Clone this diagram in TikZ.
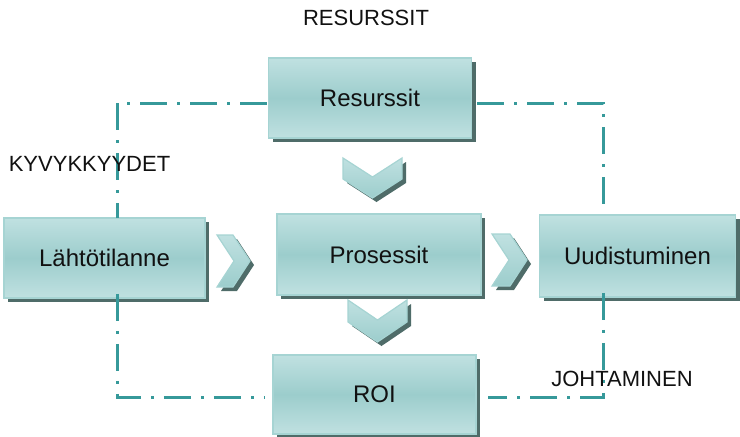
\documentclass[tikz,border=0pt]{standalone}
\usepackage{fontspec}
\setmainfont{Liberation Sans}
\usetikzlibrary{shadows}
\definecolor{boxlight}{HTML}{C0E1E1}
\definecolor{boxmid}{HTML}{9CCDCC}
\definecolor{boxedge}{HTML}{A6D4D3}
\definecolor{shadowc}{HTML}{4F6C69}
\definecolor{linec}{HTML}{36999A}
\definecolor{textc}{HTML}{111111}
\tikzset{
  box/.style={draw=boxedge, line width=1.6pt, top color=boxlight, bottom color=boxlight, middle color=boxmid,
    text=textc, font=\fontsize{24pt}{28pt}\selectfont, inner sep=0pt,
    drop shadow={shadow xshift=4pt, shadow yshift=-4pt, fill=shadowc, opacity=1}},
  chev/.style={draw=boxedge, line width=1.2pt, top color=boxlight, bottom color=boxmid},
  chevshadow/.style={fill=shadowc},
  dashline/.style={draw=linec, line width=3pt, dash pattern=on 27pt off 10pt on 3pt off 10pt},
  lbl/.style={text=textc, font=\fontsize{22pt}{26pt}\selectfont, inner sep=0pt}
}
\begin{document}
\begin{tikzpicture}[x=1pt,y=-1pt]
\useasboundingbox (0,0) rectangle (740,437);
\coordinate (tl) at (117,103);
\coordinate (tr) at (603,103);
\coordinate (bl) at (117,397);
\coordinate (br) at (603,397);
% boxes
\node[box, minimum width=203pt, minimum height=80pt] (res) at (370,98) {Resurssit};
\node[box, minimum width=201pt, minimum height=80pt] (lah) at (104.5,258) {Lähtötilanne};
\node[box, minimum width=204pt, minimum height=81pt] (pro) at (379,254.5) {Prosessit};
\node[box, minimum width=196pt, minimum height=82pt] (uud) at (637.5,256) {Uudistuminen};
\node[box, minimum width=203pt, minimum height=79pt] (roi) at (374.5,394.5) {ROI};
% frame connectors
\draw[dashline] ([xshift=-1pt]res.west |- tl) -- (tl) -- ([yshift=-1pt]tl |- lah.north);
\draw[dashline] ([xshift=5pt]res.east |- tr) -- (tr) -- (tr |- uud.north);
\draw[dashline] ([yshift=5pt]bl |- lah.south) -- (bl) -- ([xshift=-8pt]bl -| roi.west);
\draw[dashline] ([yshift=5pt]br |- uud.south) -- (br) -- ([xshift=11pt]br -| roi.east);
% chevrons
\foreach \s/\st in {{(4,4)}/chevshadow, {(0,0)}/chev}{
  \path[\st, shift=\s] (343,158) -- (372.5,177) -- (402,158) -- (402,179) -- (372.5,198) -- (343,179) -- cycle;
  \path[\st, shift=\s] (348,300) -- (377.5,320) -- (407,300) -- (407,322) -- (377.5,342) -- (348,322) -- cycle;
  \path[\st, shift=\s] (217,235) -- (233,235) -- (250,261) -- (233,287) -- (217,287) -- (234,261) -- cycle;
  \path[\st, shift=\s] (492,234) -- (510,234) -- (527,260) -- (510,286) -- (492,286) -- (509,260) -- cycle;
}
% labels
\node[lbl] (lres) at (366,18) {RESURSSIT};
\node[lbl] (lkyv) at (89.5,163.5) {KYVYKKYYDET};
\node[lbl] (ljoh) at (622,379) {JOHTAMINEN};
\end{tikzpicture}
\end{document}
